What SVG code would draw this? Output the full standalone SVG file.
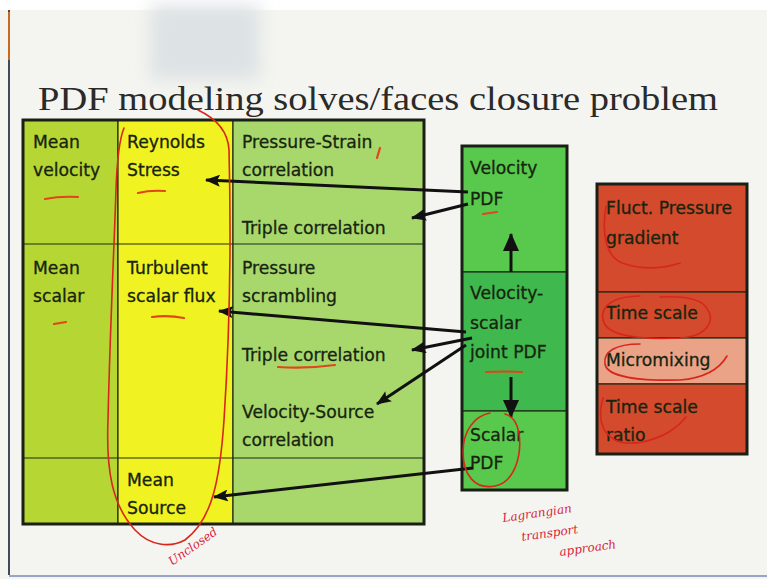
<svg xmlns="http://www.w3.org/2000/svg" width="767" height="579" viewBox="0 0 767 579">
<defs>
<marker id="ah" markerUnits="userSpaceOnUse" markerWidth="16" markerHeight="12" refX="14" refY="6" orient="auto">
<path d="M0,0 L15,6 L0,12 L3,6 Z" fill="#111"/>
</marker>
<marker id="ahb" markerUnits="userSpaceOnUse" markerWidth="18" markerHeight="16" refX="17" refY="8" orient="auto">
<path d="M0,0 L18,8 L0,16 Z" fill="#111"/>
</marker>
<filter id="blur" x="-30%" y="-30%" width="160%" height="160%"><feGaussianBlur stdDeviation="9"/></filter>
</defs>
<style>
.t{font-family:"DejaVu Sans","Verdana",sans-serif;font-size:17.2px;fill:#17240f;stroke:#17240f;stroke-width:0.3}
.title{font-family:"Liberation Serif","Times New Roman",serif;font-size:34px;fill:#2a2a2a}
.cell{stroke:#1d2a16;stroke-width:1.2}
.frame{fill:none;stroke:#1a1f16;stroke-width:3}
.con{stroke:#111;stroke-width:3;fill:none;marker-end:url(#ah)}
.ink{fill:none;stroke:#d8261c;stroke-width:1.6;stroke-linecap:round}
.ink2{fill:none;stroke:#e0461a;stroke-width:2.2;stroke-linecap:round}
.hw{font-family:"DejaVu Serif",serif;font-style:italic;font-size:12px;fill:#d81e3a}
</style>
<rect x="0" y="0" width="767" height="579" fill="#f4f5f0"/>
<rect x="0" y="0" width="767" height="10" fill="#ffffff"/>
<rect x="150" y="5" width="110" height="75" fill="#dde2e4" filter="url(#blur)"/>
<line x1="9" y1="10" x2="9" y2="575" stroke="#404a5a" stroke-width="2"/>
<line x1="9" y1="12" x2="9" y2="60" stroke="#c86a20" stroke-width="2"/>
<line x1="9" y1="576" x2="767" y2="576" stroke="#9aa3c8" stroke-width="2"/>
<text class="title" x="38" y="110" textLength="680" lengthAdjust="spacingAndGlyphs">PDF modeling solves/faces closure problem</text>

<g id="table">
<rect class="cell" x="23" y="120" width="95" height="404" fill="#b6d634"/>
<rect class="cell" x="118" y="120" width="115" height="404" fill="#f0f222"/>
<rect class="cell" x="233" y="120" width="191" height="404" fill="#a8d86c"/>
<line class="cell" x1="23" y1="244" x2="424" y2="244"/>
<line class="cell" x1="23" y1="458" x2="424" y2="458"/>
<rect class="frame" x="23" y="120" width="401" height="404"/>
</g>
<g id="mean-velocity"><text class="t" x="33" y="148">Mean</text><text class="t" x="33" y="176">velocity</text></g>
<g id="reynolds-stress"><text class="t" x="127" y="148">Reynolds</text><text class="t" x="127" y="176">Stress</text></g>
<g id="pressure-strain"><text class="t" x="242" y="148">Pressure-Strain</text><text class="t" x="242" y="176">correlation</text></g>
<g id="triple-correlation-1"><text class="t" x="242" y="234">Triple correlation</text></g>
<g id="mean-scalar"><text class="t" x="33" y="274">Mean</text><text class="t" x="33" y="302">scalar</text></g>
<g id="turbulent-scalar-flux"><text class="t" x="127" y="274">Turbulent</text><text class="t" x="127" y="302">scalar flux</text></g>
<g id="pressure-scrambling"><text class="t" x="242" y="274">Pressure</text><text class="t" x="242" y="302">scrambling</text></g>
<g id="triple-correlation-2"><text class="t" x="242" y="361">Triple correlation</text></g>
<g id="velocity-source"><text class="t" x="242" y="418">Velocity-Source</text><text class="t" x="242" y="446">correlation</text></g>
<g id="mean-source"><text class="t" x="127" y="486">Mean</text><text class="t" x="127" y="514">Source</text></g>

<g id="pdf-column">
<rect class="cell" x="462" y="146" width="105" height="126" fill="#58c94c"/>
<rect class="cell" x="462" y="272" width="105" height="139" fill="#3fb94d"/>
<rect class="cell" x="462" y="411" width="105" height="79" fill="#58c94c"/>
<rect class="frame" x="462" y="146" width="105" height="344"/>
</g>
<g id="velocity-pdf"><text class="t" x="470" y="174">Velocity</text><text class="t" x="470" y="205">PDF</text></g>
<g id="velocity-scalar-pdf"><text class="t" x="470" y="299">Velocity-</text><text class="t" x="470" y="329">scalar</text><text class="t" x="470" y="358">joint PDF</text></g>
<g id="scalar-pdf"><text class="t" x="470" y="441">Scalar</text><text class="t" x="470" y="469">PDF</text></g>

<g id="model-column">
<rect class="cell" x="597" y="184" width="150" height="108" fill="#d34a2c"/>
<rect class="cell" x="597" y="292" width="150" height="46" fill="#d34a2c"/>
<rect class="cell" x="597" y="338" width="150" height="46" fill="#eaa386"/>
<rect class="cell" x="597" y="384" width="150" height="70" fill="#d34a2c"/>
<rect class="frame" x="597" y="184" width="150" height="270"/>
</g>
<g id="fluct-pressure"><text class="t" x="606" y="214">Fluct. Pressure</text><text class="t" x="606" y="244">gradient</text></g>
<g id="time-scale"><text class="t" x="606" y="319">Time scale</text></g>
<g id="micromixing"><text class="t" x="606" y="366">Micromixing</text></g>
<g id="time-scale-ratio"><text class="t" x="606" y="413">Time scale</text><text class="t" x="606" y="441">ratio</text></g>

<g id="connectors">
<line class="con" x1="468" y1="192" x2="206" y2="180"/>
<line class="con" x1="468" y1="204" x2="412" y2="218"/>
<line class="con" x1="466" y1="332" x2="219" y2="311"/>
<line class="con" x1="472" y1="338" x2="412" y2="350"/>
<line class="con" x1="466" y1="345" x2="377" y2="404"/>
<line class="con" x1="473" y1="468" x2="214" y2="497"/>
<line x1="511" y1="272" x2="511" y2="234" stroke="#111" stroke-width="3" marker-end="url(#ahb)"/>
<line x1="511" y1="377" x2="511" y2="417" stroke="#111" stroke-width="3" marker-end="url(#ahb)"/>
</g>

<g id="annotations">
<path class="ink" d="M198,110 C215,118 228,130 229,150 C231,230 230,330 224,420 C220,480 212,520 185,540 C170,548 150,546 135,530 C112,505 106,470 108,420 C110,330 114,250 116,190 C117,160 119,140 124,128"/>
<path class="ink2" d="M45,199 Q60,196 78,197"/>
<path class="ink2" d="M138,193 Q150,190 165,191"/>
<path class="ink2" d="M54,324 L66,322"/>
<path class="ink2" d="M152,317 Q168,315 184,318"/>
<path class="ink2" d="M278,367 Q305,369 335,365"/>
<path class="ink2" d="M483,214 L497,212"/>
<path class="ink2" d="M486,372 Q505,371 522,372"/>
<path class="ink2" d="M380,148 L377,158"/>
<path class="ink" d="M490,413 C475,416 463,430 463,452 C463,475 475,490 495,486 C515,482 522,455 519,433 C517,422 512,416 505,414"/>
<path class="ink" d="M606,206 C602,230 604,258 625,264 C645,270 665,268 680,263"/>
<path class="ink" d="M640,296 C615,296 600,305 603,320 C606,335 635,340 680,338 C708,336 717,320 705,306 C698,298 680,296 660,297"/>
<path class="ink" d="M640,344 C615,344 603,352 605,364 C607,377 640,381 680,380 C705,378 720,368 727,356"/>
<path class="ink" d="M603,398 C598,415 600,432 615,440 C632,448 668,440 686,417"/>
<text class="hw" transform="translate(172,566) rotate(-35)">Unclosed</text>
<text class="hw" transform="translate(503,522) rotate(-8)">Lagrangian</text>
<text class="hw" transform="translate(522,541) rotate(-8)">transport</text>
<text class="hw" transform="translate(560,556) rotate(-8)">approach</text>
</g>
</svg>
